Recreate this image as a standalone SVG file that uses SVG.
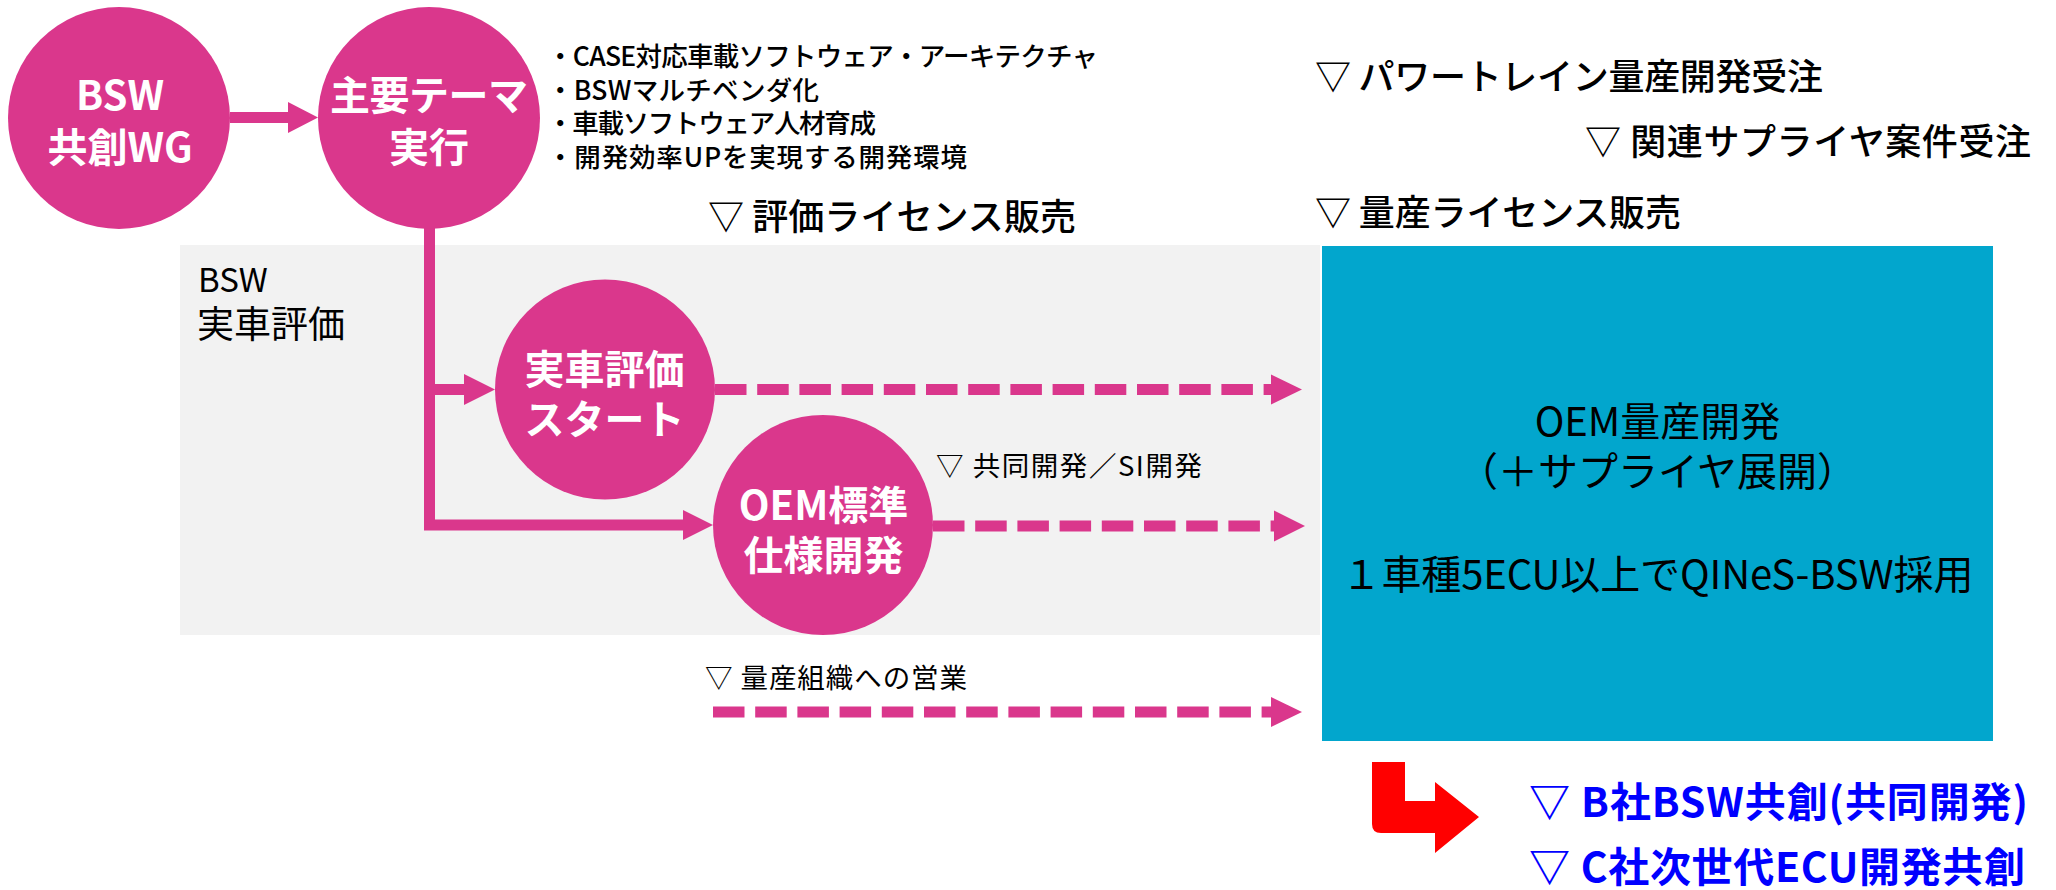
<svg xmlns="http://www.w3.org/2000/svg" width="2056" height="890" viewBox="0 0 2056 890">
<style>
text{font-family:"Noto Sans CJK JP","Noto Sans",sans-serif}
.node{fill:#DA378C}
.ct{fill:#fff;font-weight:bold;font-size:40px;text-anchor:middle}
.hd{font-size:36px;fill:#000;font-weight:500}
.bl{font-size:26.5px;fill:#000;font-weight:500}
.sm{font-size:27.5px;fill:#000}
.tl{font-size:40px;fill:#000;text-anchor:middle}
.bt{font-size:41px;fill:#0000FF;font-weight:bold}
.conn{stroke:#DA378C;stroke-width:11;fill:none;stroke-linejoin:miter}
.dash{stroke-dasharray:31.5 10.7}
.head{fill:#DA378C}
</style>

<g id="eval-area">
<rect x="180" y="245" width="1140" height="390" fill="#F2F2F2"/>
<text x="198" y="292" font-size="33" fill="#000">BSW</text>
<text x="197" y="338" font-size="37" fill="#000">実車評価</text>
</g>

<g id="oem-mass">
<rect x="1322" y="246" width="671" height="495" fill="#02A6CD"/>
<text class="tl" x="1657.5" y="436">OEM量産開発</text>
<text class="tl" x="1657.5" y="486">（＋サプライヤ展開）</text>
<text class="tl" x="1657.5" y="589" textLength="632">１車種5ECU以上でQINeS-BSW採用</text>
</g>

<g id="connectors">
<path class="conn" d="M230,117.5 H289"/>
<polygon class="head" points="288,102 318,117.5 288,133"/>
<path class="conn" d="M429.5,226 V525 H684"/>
<polygon class="head" points="683,510 713,525 683,540"/>
<path class="conn" d="M435,389.5 H465"/>
<polygon class="head" points="464,374 495,389.5 464,405"/>
<path class="conn dash" d="M715,389.5 H1272"/>
<polygon class="head" points="1271,374.5 1302,389.5 1271,404.5"/>
<path class="conn dash" d="M933,526 H1275"/>
<polygon class="head" points="1274,510.5 1305,526 1274,541.5"/>
<path class="conn dash" d="M713,712 H1272"/>
<polygon class="head" points="1271,697 1302,712 1271,727"/>
</g>

<g id="bsw-wg">
<circle class="node" cx="119" cy="118" r="111"/>
<text class="ct" x="120" y="110" font-size="38">BSW</text>
<text class="ct" x="120" y="162" font-size="38">共創WG</text>
</g>

<g id="main-theme">
<circle class="node" cx="429" cy="118" r="111"/>
<text class="ct" x="429" y="110" textLength="198">主要テーマ</text>
<text class="ct" x="429" y="162">実行</text>
</g>

<g id="theme-list">
<text class="bl" x="547" y="66" textLength="551">・CASE対応車載ソフトウェア・アーキテクチャ</text>
<text class="bl" x="547" y="100" textLength="272">・BSWマルチベンダ化</text>
<text class="bl" x="547" y="133" textLength="329">・車載ソフトウェア人材育成</text>
<text class="bl" x="547" y="167" textLength="420">・開発効率UPを実現する開発環境</text>
</g>

<g id="car-eval">
<circle class="node" cx="605" cy="389.5" r="110"/>
<text class="ct" x="604.5" y="384">実車評価</text>
<text class="ct" x="604.5" y="434">スタート</text>
</g>

<g id="oem-std">
<circle class="node" cx="823" cy="525" r="110"/>
<text class="ct" x="823.5" y="520">OEM標準</text>
<text class="ct" x="823.5" y="570">仕様開発</text>
</g>

<g id="milestones">
<text class="hd" x="708" y="230" textLength="368">▽ 評価ライセンス販売</text>
<text class="hd" x="1315" y="90" textLength="508">▽ パワートレイン量産開発受注</text>
<text class="hd" x="1585" y="155" textLength="446">▽ 関連サプライヤ案件受注</text>
<text class="hd" x="1315" y="226" textLength="366">▽ 量産ライセンス販売</text>
<text class="sm" x="936" y="476" textLength="266">▽ 共同開発／SI開発</text>
<text class="sm" x="705" y="688" textLength="262">▽ 量産組織への営業</text>
</g>

<g id="next-steps">
<path d="M1372,762 H1405 V801 H1435 V782 L1479,817 L1435,853 V833 H1381 Q1372,833 1372,824 Z" fill="#FF0000"/>
<text class="bt" x="1529" y="817" textLength="499">▽ B社BSW共創(共同開発)</text>
<text class="bt" x="1529" y="882" textLength="496">▽ C社次世代ECU開発共創</text>
</g>
</svg>
